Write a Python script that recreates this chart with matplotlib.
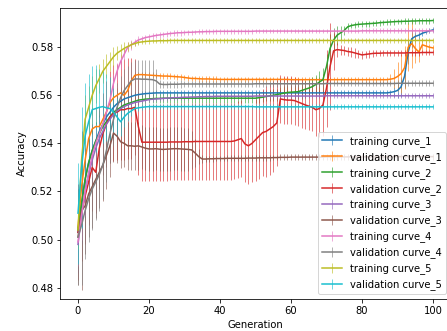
import matplotlib
matplotlib.use("Agg")
import matplotlib.pyplot as plt

generations = list(range(101))

labels = ["training curve_1", "validation curve_1", "training curve_2", "validation curve_2",
          "training curve_3", "validation curve_3", "training curve_4", "validation curve_4",
          "training curve_5", "validation curve_5"]

train_1 = [
    0.503, 0.515, 0.525, 0.532, 0.537, 0.541, 0.545, 0.548, 0.551, 0.553,
    0.555, 0.5565, 0.5575, 0.5585, 0.559, 0.5595, 0.560, 0.5603, 0.5605, 0.5607,
    0.5608, 0.5609, 0.561, 0.561, 0.561, 0.561, 0.561, 0.561, 0.561, 0.561,
    0.561, 0.561, 0.561, 0.561, 0.561, 0.561, 0.561, 0.561, 0.561, 0.561,
    0.561, 0.561, 0.561, 0.561, 0.561, 0.561, 0.561, 0.561, 0.561, 0.561,
    0.561, 0.561, 0.561, 0.561, 0.561, 0.561, 0.561, 0.561, 0.561, 0.561,
    0.561, 0.561, 0.561, 0.561, 0.561, 0.561, 0.561, 0.561, 0.561, 0.561,
    0.561, 0.561, 0.561, 0.561, 0.561, 0.561, 0.561, 0.561, 0.561, 0.561,
    0.561, 0.561, 0.561, 0.561, 0.561, 0.561, 0.561, 0.561, 0.5612, 0.5615,
    0.562, 0.5635, 0.568, 0.578, 0.5835, 0.5845, 0.585, 0.5858, 0.5863, 0.5868,
    0.5872]
err_train_1 = [
    0.012, 0.012, 0.011, 0.010, 0.009, 0.008, 0.007, 0.006, 0.005, 0.004,
    0.0035, 0.003, 0.0025, 0.002, 0.0018, 0.0015, 0.0012, 0.0012, 0.0012, 0.001,
    0.001, 0.001, 0.001, 0.001, 0.001, 0.001, 0.001, 0.001, 0.001, 0.001,
    0.001, 0.001, 0.001, 0.001, 0.001, 0.001, 0.001, 0.001, 0.001, 0.001,
    0.001, 0.001, 0.001, 0.001, 0.001, 0.001, 0.001, 0.001, 0.001, 0.001,
    0.001, 0.001, 0.001, 0.001, 0.001, 0.001, 0.001, 0.001, 0.001, 0.001,
    0.001, 0.001, 0.001, 0.001, 0.001, 0.001, 0.001, 0.001, 0.001, 0.001,
    0.001, 0.001, 0.001, 0.001, 0.001, 0.001, 0.001, 0.001, 0.001, 0.001,
    0.001, 0.001, 0.001, 0.001, 0.001, 0.001, 0.001, 0.001, 0.0012, 0.002,
    0.003, 0.004, 0.005, 0.005, 0.004, 0.002, 0.0015, 0.0012, 0.001, 0.001,
    0.001]

val_1 = [
    0.505, 0.522, 0.533, 0.542, 0.546, 0.547, 0.547, 0.550, 0.553, 0.557,
    0.559, 0.560, 0.561, 0.560, 0.562, 0.566, 0.5683, 0.5686, 0.5686, 0.5685,
    0.5684, 0.5683, 0.5682, 0.5681, 0.568, 0.568, 0.5679, 0.5678, 0.5677, 0.5676,
    0.5674, 0.5672, 0.567, 0.567, 0.5669, 0.5668, 0.5668, 0.5668, 0.5667, 0.5667,
    0.5666, 0.5666, 0.5666, 0.5666, 0.5666, 0.5666, 0.5666, 0.5666, 0.5666, 0.5666,
    0.5666, 0.5666, 0.5666, 0.5666, 0.5666, 0.5666, 0.5666, 0.5666, 0.5666, 0.5666,
    0.5665, 0.5665, 0.5665, 0.5665, 0.5665, 0.5665, 0.5665, 0.5665, 0.5665, 0.5665,
    0.5665, 0.5665, 0.5665, 0.5665, 0.5665, 0.5665, 0.5665, 0.5665, 0.5665, 0.5665,
    0.5665, 0.5665, 0.5665, 0.5665, 0.5665, 0.5665, 0.5665, 0.5665, 0.5667, 0.567,
    0.5678, 0.569, 0.5715, 0.580, 0.5815, 0.5795, 0.578, 0.581, 0.5805, 0.580,
    0.5797]
err_val_1 = [
    0.012, 0.012, 0.011, 0.010, 0.009, 0.008, 0.007, 0.006, 0.005, 0.004,
    0.0035, 0.003, 0.0025, 0.002, 0.002, 0.0018, 0.0015, 0.0012, 0.0012, 0.0012,
    0.0012, 0.0012, 0.0012, 0.0012, 0.0012, 0.0012, 0.0012, 0.0012, 0.0012, 0.0012,
    0.0012, 0.0012, 0.0012, 0.0012, 0.0012, 0.0012, 0.0012, 0.0012, 0.0012, 0.0012,
    0.0012, 0.0012, 0.0012, 0.0012, 0.0012, 0.0012, 0.0012, 0.0012, 0.0012, 0.0012,
    0.0012, 0.0012, 0.0012, 0.0012, 0.0012, 0.0012, 0.0012, 0.0012, 0.0012, 0.0012,
    0.0012, 0.0012, 0.0012, 0.0012, 0.0012, 0.0012, 0.0012, 0.0012, 0.0012, 0.0012,
    0.0012, 0.0012, 0.0012, 0.0012, 0.0012, 0.0012, 0.0012, 0.0012, 0.0012, 0.0012,
    0.0012, 0.0012, 0.0012, 0.0012, 0.0012, 0.0012, 0.0012, 0.0012, 0.002, 0.004,
    0.006, 0.008, 0.009, 0.010, 0.010, 0.006, 0.004, 0.003, 0.002, 0.0015,
    0.0012]

train_2 = [
    0.504, 0.515, 0.525, 0.532, 0.537, 0.541, 0.544, 0.547, 0.549, 0.551,
    0.553, 0.554, 0.555, 0.556, 0.5565, 0.557, 0.5575, 0.558, 0.5582, 0.5584,
    0.5585, 0.5586, 0.5587, 0.5587, 0.5588, 0.5588, 0.5588, 0.5588, 0.5588, 0.5588,
    0.5588, 0.5588, 0.5588, 0.5588, 0.5588, 0.5588, 0.5588, 0.5588, 0.5588, 0.5588,
    0.5588, 0.5588, 0.5588, 0.5588, 0.5588, 0.5588, 0.5588, 0.5588, 0.5588, 0.5588,
    0.5588, 0.559, 0.5592, 0.5595, 0.5598, 0.560, 0.5603, 0.5606, 0.5609, 0.5612,
    0.5613, 0.5614, 0.5615, 0.562, 0.5625, 0.563, 0.5636, 0.5645, 0.5655, 0.5665,
    0.572, 0.5795, 0.583, 0.585, 0.586, 0.587, 0.5885, 0.589, 0.5893, 0.5895,
    0.5896, 0.5897, 0.5898, 0.5899, 0.590, 0.5902, 0.5903, 0.5904, 0.5905, 0.5906,
    0.5907, 0.5907, 0.5908, 0.5908, 0.5909, 0.5909, 0.591, 0.591, 0.591, 0.591,
    0.5911]
err_train_2 = [
    0.012, 0.012, 0.011, 0.010, 0.009, 0.008, 0.007, 0.006, 0.005, 0.0045,
    0.004, 0.0035, 0.003, 0.0028, 0.0025, 0.0022, 0.002, 0.002, 0.002, 0.002,
    0.0018, 0.0018, 0.0018, 0.0018, 0.0018, 0.0018, 0.0018, 0.0018, 0.0018, 0.0018,
    0.0018, 0.0018, 0.0018, 0.0018, 0.0018, 0.0018, 0.0018, 0.0018, 0.0018, 0.0018,
    0.0018, 0.0018, 0.0018, 0.0018, 0.0018, 0.0018, 0.0018, 0.0018, 0.0018, 0.0018,
    0.002, 0.002, 0.002, 0.002, 0.0022, 0.0025, 0.0025, 0.0028, 0.003, 0.003,
    0.003, 0.003, 0.0032, 0.0035, 0.0035, 0.0038, 0.004, 0.004, 0.0045, 0.005,
    0.005, 0.006, 0.005, 0.004, 0.003, 0.002, 0.0015, 0.0012, 0.0012, 0.0012,
    0.0012, 0.0012, 0.0012, 0.0012, 0.0012, 0.0012, 0.0012, 0.0012, 0.0012, 0.0012,
    0.0012, 0.0012, 0.0012, 0.0012, 0.0012, 0.0012, 0.0012, 0.0012, 0.0012, 0.0012,
    0.0012]

val_2 = [
    0.503, 0.511, 0.518, 0.524, 0.530, 0.528, 0.538, 0.544, 0.548, 0.551,
    0.5525, 0.553, 0.554, 0.554, 0.5545, 0.5545, 0.555, 0.547, 0.5405, 0.5405,
    0.5405, 0.5405, 0.5405, 0.5405, 0.5405, 0.5405, 0.5406, 0.5406, 0.5406, 0.5406,
    0.5407, 0.5407, 0.5407, 0.5408, 0.5408, 0.5408, 0.5408, 0.5408, 0.5408, 0.5408,
    0.5408, 0.5408, 0.5408, 0.5408, 0.541, 0.5415, 0.542, 0.5398, 0.539, 0.540,
    0.5415, 0.543, 0.5445, 0.545, 0.546, 0.547, 0.5485, 0.5585, 0.5582, 0.558,
    0.558, 0.5578, 0.5572, 0.5566, 0.556, 0.5555, 0.555, 0.554, 0.5545, 0.556,
    0.563, 0.572, 0.5785, 0.579, 0.5788, 0.5786, 0.5782, 0.578, 0.5776, 0.5772,
    0.5768, 0.577, 0.5772, 0.5774, 0.5775, 0.5775, 0.5776, 0.5776, 0.5776, 0.5776,
    0.5776, 0.5776, 0.5776, 0.5777, 0.5777, 0.5777, 0.5777, 0.5778, 0.5778, 0.5778,
    0.5778]
err_val_2 = [
    0.020, 0.020, 0.020, 0.018, 0.018, 0.017, 0.017, 0.017, 0.018, 0.019,
    0.020, 0.020, 0.021, 0.021, 0.021, 0.021, 0.020, 0.020, 0.016, 0.016,
    0.016, 0.016, 0.016, 0.016, 0.016, 0.016, 0.016, 0.016, 0.016, 0.016,
    0.016, 0.016, 0.016, 0.016, 0.016, 0.016, 0.016, 0.016, 0.016, 0.016,
    0.016, 0.016, 0.016, 0.016, 0.016, 0.016, 0.016, 0.016, 0.016, 0.016,
    0.017, 0.018, 0.018, 0.019, 0.019, 0.019, 0.018, 0.010, 0.010, 0.010,
    0.010, 0.010, 0.010, 0.010, 0.010, 0.010, 0.010, 0.011, 0.012, 0.013,
    0.016, 0.018, 0.008, 0.003, 0.002, 0.002, 0.002, 0.002, 0.002, 0.0015,
    0.0015, 0.0015, 0.0015, 0.0015, 0.0012, 0.0012, 0.0012, 0.0012, 0.0012, 0.0012,
    0.0012, 0.0012, 0.0012, 0.0012, 0.0012, 0.0012, 0.0012, 0.0012, 0.0012, 0.0012,
    0.0012]

train_3 = [
    0.498, 0.510, 0.520, 0.527, 0.533, 0.538, 0.542, 0.545, 0.548, 0.550,
    0.552, 0.5535, 0.5545, 0.5553, 0.556, 0.5565, 0.557, 0.5573, 0.5576, 0.5579,
    0.5582, 0.5584, 0.5585, 0.5586, 0.5587, 0.5588, 0.5589, 0.559, 0.559, 0.5591,
    0.5592, 0.5592, 0.5593, 0.5593, 0.5594, 0.5594, 0.5595, 0.5595, 0.5595, 0.5596,
    0.5596, 0.5596, 0.5596, 0.5596, 0.5596, 0.5596, 0.5596, 0.5596, 0.5596, 0.5596,
    0.5597, 0.5597, 0.5597, 0.5597, 0.5597, 0.5597, 0.5597, 0.5597, 0.5597, 0.5597,
    0.5597, 0.5597, 0.5597, 0.5597, 0.5597, 0.5597, 0.5597, 0.5597, 0.5597, 0.5597,
    0.5598, 0.5598, 0.5598, 0.5598, 0.5598, 0.5598, 0.5598, 0.5598, 0.5598, 0.5598,
    0.5598, 0.5598, 0.5598, 0.5598, 0.5598, 0.5598, 0.5598, 0.5598, 0.5598, 0.5598,
    0.5598, 0.5598, 0.5598, 0.5598, 0.5598, 0.5598, 0.5598, 0.5598, 0.5598, 0.5598,
    0.5598]
err_train_3 = [
    0.012, 0.012, 0.011, 0.010, 0.009, 0.008, 0.007, 0.006, 0.005, 0.004,
    0.0035, 0.003, 0.0025, 0.002, 0.0018, 0.0015, 0.0012, 0.0012, 0.001, 0.001,
    0.001, 0.001, 0.001, 0.001, 0.001, 0.001, 0.001, 0.001, 0.001, 0.001,
    0.001, 0.001, 0.001, 0.001, 0.001, 0.001, 0.001, 0.001, 0.001, 0.001,
    0.001, 0.001, 0.001, 0.001, 0.001, 0.001, 0.001, 0.001, 0.001, 0.001,
    0.001, 0.001, 0.001, 0.001, 0.001, 0.001, 0.001, 0.001, 0.001, 0.001,
    0.001, 0.001, 0.001, 0.001, 0.001, 0.001, 0.001, 0.001, 0.001, 0.001,
    0.001, 0.001, 0.001, 0.001, 0.001, 0.001, 0.001, 0.001, 0.001, 0.001,
    0.001, 0.001, 0.001, 0.001, 0.001, 0.001, 0.001, 0.001, 0.001, 0.001,
    0.001, 0.001, 0.001, 0.001, 0.001, 0.001, 0.001, 0.001, 0.001, 0.001,
    0.001]

val_3 = [
    0.501, 0.512, 0.514, 0.519, 0.522, 0.525, 0.528, 0.531, 0.535, 0.539,
    0.5443, 0.543, 0.5407, 0.540, 0.539, 0.539, 0.5388, 0.539, 0.5385, 0.538,
    0.5377, 0.5377, 0.5378, 0.5376, 0.5375, 0.5376, 0.5377, 0.5378, 0.5378, 0.5377,
    0.5376, 0.5375, 0.5373, 0.536, 0.5345, 0.5335, 0.5335, 0.5336, 0.5336, 0.5337,
    0.5337, 0.5337, 0.5338, 0.5338, 0.5338, 0.5338, 0.5338, 0.5338, 0.5339, 0.5339,
    0.5339, 0.534, 0.534, 0.534, 0.534, 0.5341, 0.5341, 0.5342, 0.5342, 0.5342,
    0.5343, 0.5343, 0.5343, 0.5343, 0.5343, 0.5343, 0.5343, 0.5343, 0.5343, 0.5343,
    0.5344, 0.5344, 0.5344, 0.5344, 0.5344, 0.5344, 0.5344, 0.5344, 0.5344, 0.5344,
    0.5344, 0.5344, 0.5344, 0.5344, 0.5344, 0.5344, 0.5344, 0.5344, 0.5344, 0.5344,
    0.5345, 0.5345, 0.5345, 0.5345, 0.5345, 0.5345, 0.5345, 0.5345, 0.5345, 0.5345,
    0.5345]
err_val_3 = [
    0.020, 0.033, 0.020, 0.018, 0.017, 0.016, 0.015, 0.015, 0.014, 0.013,
    0.012, 0.011, 0.011, 0.010, 0.010, 0.010, 0.010, 0.010, 0.009, 0.009,
    0.009, 0.009, 0.009, 0.009, 0.009, 0.009, 0.009, 0.009, 0.009, 0.009,
    0.009, 0.009, 0.008, 0.006, 0.003, 0.0015, 0.0012, 0.0012, 0.0012, 0.0012,
    0.0012, 0.0012, 0.0012, 0.0012, 0.0012, 0.0012, 0.0012, 0.0012, 0.0012, 0.0012,
    0.0012, 0.0012, 0.0012, 0.0012, 0.0012, 0.0012, 0.0012, 0.0012, 0.0012, 0.0012,
    0.0012, 0.0012, 0.0012, 0.0012, 0.0012, 0.0012, 0.0012, 0.0012, 0.0012, 0.0012,
    0.0012, 0.0012, 0.0012, 0.0012, 0.0012, 0.0012, 0.0012, 0.0012, 0.0012, 0.0012,
    0.0012, 0.0012, 0.0012, 0.0012, 0.0012, 0.0012, 0.0012, 0.0012, 0.0012, 0.0012,
    0.0012, 0.0012, 0.0012, 0.0012, 0.0012, 0.0012, 0.0012, 0.0012, 0.0012, 0.0012,
    0.0012]

train_4 = [
    0.499, 0.510, 0.520, 0.528, 0.535, 0.540, 0.544, 0.548, 0.553, 0.558,
    0.565, 0.570, 0.574, 0.577, 0.580, 0.581, 0.582, 0.583, 0.5835, 0.584,
    0.5843, 0.5846, 0.5849, 0.5851, 0.5853, 0.5855, 0.5857, 0.5858, 0.586, 0.586,
    0.5861, 0.5862, 0.5862, 0.5863, 0.5864, 0.5864, 0.5865, 0.5865, 0.5865, 0.5866,
    0.5866, 0.5866, 0.5866, 0.5866, 0.5866, 0.5866, 0.5866, 0.5866, 0.5866, 0.5866,
    0.5867, 0.5867, 0.5867, 0.5867, 0.5867, 0.5867, 0.5867, 0.5867, 0.5867, 0.5867,
    0.5867, 0.5867, 0.5867, 0.5867, 0.5867, 0.5867, 0.5867, 0.5867, 0.5867, 0.5867,
    0.5867, 0.5867, 0.5867, 0.5867, 0.5867, 0.5867, 0.5867, 0.5867, 0.5867, 0.5867,
    0.5868, 0.5868, 0.5868, 0.5868, 0.5868, 0.5868, 0.5868, 0.5868, 0.5868, 0.5868,
    0.5868, 0.5868, 0.5868, 0.5868, 0.5868, 0.5868, 0.5868, 0.5868, 0.5868, 0.5868,
    0.5868]
err_train_4 = [
    0.010, 0.010, 0.010, 0.009, 0.009, 0.008, 0.007, 0.006, 0.005, 0.005,
    0.004, 0.0035, 0.003, 0.0025, 0.002, 0.002, 0.0015, 0.0015, 0.0012, 0.0012,
    0.0012, 0.0012, 0.0012, 0.0012, 0.0012, 0.0012, 0.0012, 0.0012, 0.0012, 0.0012,
    0.001, 0.001, 0.001, 0.001, 0.001, 0.001, 0.001, 0.001, 0.001, 0.001,
    0.001, 0.001, 0.001, 0.001, 0.001, 0.001, 0.001, 0.001, 0.001, 0.001,
    0.001, 0.001, 0.001, 0.001, 0.001, 0.001, 0.001, 0.001, 0.001, 0.001,
    0.001, 0.001, 0.001, 0.001, 0.001, 0.001, 0.001, 0.001, 0.001, 0.001,
    0.001, 0.001, 0.001, 0.001, 0.001, 0.001, 0.001, 0.001, 0.001, 0.001,
    0.001, 0.001, 0.001, 0.001, 0.001, 0.001, 0.001, 0.001, 0.001, 0.001,
    0.001, 0.001, 0.001, 0.001, 0.001, 0.001, 0.001, 0.001, 0.001, 0.001,
    0.001]

val_4 = [
    0.501, 0.506, 0.512, 0.517, 0.521, 0.524, 0.527, 0.531, 0.537, 0.544,
    0.550, 0.555, 0.559, 0.562, 0.564, 0.566, 0.5668, 0.5668, 0.5667, 0.5667,
    0.5666, 0.5665, 0.566, 0.5647, 0.5645, 0.5645, 0.5646, 0.5646, 0.5646, 0.5647,
    0.5647, 0.5647, 0.5647, 0.5647, 0.5647, 0.5647, 0.5647, 0.5647, 0.5647, 0.5647,
    0.5647, 0.5647, 0.5647, 0.5647, 0.5647, 0.5647, 0.5647, 0.5647, 0.5647, 0.5647,
    0.5648, 0.5648, 0.5648, 0.5648, 0.5648, 0.5648, 0.5648, 0.5648, 0.5648, 0.5648,
    0.5648, 0.5648, 0.5648, 0.5648, 0.5648, 0.5648, 0.5648, 0.5648, 0.5648, 0.5648,
    0.5649, 0.5649, 0.5649, 0.5649, 0.5649, 0.5649, 0.5649, 0.5649, 0.5649, 0.5649,
    0.5649, 0.5649, 0.5649, 0.5649, 0.5649, 0.5649, 0.5649, 0.5649, 0.5649, 0.5649,
    0.565, 0.565, 0.565, 0.565, 0.565, 0.565, 0.565, 0.565, 0.565, 0.565,
    0.565]
err_val_4 = [
    0.020, 0.025, 0.020, 0.018, 0.017, 0.016, 0.015, 0.014, 0.013, 0.012,
    0.011, 0.010, 0.009, 0.009, 0.008, 0.008, 0.008, 0.008, 0.008, 0.008,
    0.008, 0.008, 0.005, 0.0015, 0.0015, 0.0015, 0.0015, 0.0015, 0.0015, 0.0015,
    0.0012, 0.0012, 0.0012, 0.0012, 0.0012, 0.0012, 0.0012, 0.0012, 0.0012, 0.0012,
    0.0012, 0.0012, 0.0012, 0.0012, 0.0012, 0.0012, 0.0012, 0.0012, 0.0012, 0.0012,
    0.0012, 0.0012, 0.0012, 0.0012, 0.0012, 0.0012, 0.0012, 0.0012, 0.0012, 0.0012,
    0.0012, 0.0012, 0.0012, 0.0012, 0.0012, 0.0012, 0.0012, 0.0012, 0.0012, 0.0012,
    0.0012, 0.0012, 0.0012, 0.0012, 0.0012, 0.0012, 0.0012, 0.0012, 0.0012, 0.0012,
    0.0012, 0.0012, 0.0012, 0.0012, 0.0012, 0.0012, 0.0012, 0.0012, 0.0012, 0.0012,
    0.0012, 0.0012, 0.0012, 0.0012, 0.0012, 0.0012, 0.0012, 0.0012, 0.0012, 0.0012,
    0.0012]

train_5 = [
    0.504, 0.533, 0.550, 0.555, 0.560, 0.564, 0.567, 0.570, 0.572, 0.574,
    0.576, 0.5775, 0.5785, 0.5795, 0.5803, 0.581, 0.5815, 0.582, 0.5822, 0.5824,
    0.5825, 0.5826, 0.5826, 0.5827, 0.5827, 0.5827, 0.5828, 0.5828, 0.5828, 0.5828,
    0.5828, 0.5828, 0.5828, 0.5828, 0.5828, 0.5828, 0.5828, 0.5828, 0.5828, 0.5828,
    0.5828, 0.5828, 0.5828, 0.5828, 0.5828, 0.5828, 0.5828, 0.5828, 0.5828, 0.5828,
    0.5828, 0.5828, 0.5828, 0.5828, 0.5828, 0.5828, 0.5828, 0.5828, 0.5828, 0.5828,
    0.5828, 0.5828, 0.5828, 0.5828, 0.5828, 0.5828, 0.5828, 0.5828, 0.5828, 0.5828,
    0.5828, 0.5828, 0.5828, 0.5828, 0.5828, 0.5828, 0.5828, 0.5828, 0.5828, 0.5828,
    0.5828, 0.5828, 0.5828, 0.5828, 0.5828, 0.5828, 0.5828, 0.5828, 0.5828, 0.5828,
    0.5828, 0.5828, 0.5828, 0.5828, 0.5828, 0.5828, 0.5828, 0.5828, 0.5828, 0.5828,
    0.5828]
err_train_5 = [
    0.008, 0.010, 0.010, 0.009, 0.008, 0.007, 0.006, 0.005, 0.005, 0.004,
    0.004, 0.003, 0.003, 0.0025, 0.002, 0.0015, 0.0012, 0.0012, 0.001, 0.001,
    0.001, 0.001, 0.001, 0.001, 0.001, 0.001, 0.001, 0.001, 0.001, 0.001,
    0.001, 0.001, 0.001, 0.001, 0.001, 0.001, 0.001, 0.001, 0.001, 0.001,
    0.001, 0.001, 0.001, 0.001, 0.001, 0.001, 0.001, 0.001, 0.001, 0.001,
    0.001, 0.001, 0.001, 0.001, 0.001, 0.001, 0.001, 0.001, 0.001, 0.001,
    0.001, 0.001, 0.001, 0.001, 0.001, 0.001, 0.001, 0.001, 0.001, 0.001,
    0.001, 0.001, 0.001, 0.001, 0.001, 0.001, 0.001, 0.001, 0.001, 0.001,
    0.001, 0.001, 0.001, 0.001, 0.001, 0.001, 0.001, 0.001, 0.001, 0.001,
    0.001, 0.001, 0.001, 0.001, 0.001, 0.001, 0.001, 0.001, 0.001, 0.001,
    0.001]

val_5 = [
    0.511, 0.530, 0.543, 0.549, 0.554, 0.5545, 0.555, 0.5553, 0.5548, 0.5545,
    0.553, 0.551, 0.549, 0.551, 0.5525, 0.5535, 0.5545, 0.5548, 0.555, 0.5552,
    0.5553, 0.5553, 0.5553, 0.5553, 0.5553, 0.5553, 0.5553, 0.5553, 0.5553, 0.5553,
    0.5553, 0.5553, 0.5553, 0.5553, 0.5553, 0.5553, 0.5553, 0.5553, 0.5553, 0.5553,
    0.5553, 0.5553, 0.5553, 0.5553, 0.5553, 0.5553, 0.5553, 0.5553, 0.5553, 0.5553,
    0.5552, 0.5552, 0.5552, 0.5552, 0.5552, 0.5552, 0.5552, 0.5552, 0.5552, 0.5552,
    0.5552, 0.5552, 0.5552, 0.5552, 0.5552, 0.5552, 0.5552, 0.5552, 0.5552, 0.5552,
    0.5552, 0.5552, 0.5552, 0.5552, 0.5552, 0.5552, 0.5552, 0.5552, 0.5552, 0.5552,
    0.5552, 0.5552, 0.5552, 0.5552, 0.5552, 0.5552, 0.5552, 0.5552, 0.5552, 0.5552,
    0.5552, 0.5552, 0.5552, 0.5552, 0.5552, 0.5552, 0.5552, 0.5552, 0.5552, 0.5552,
    0.5552]
err_val_5 = [
    0.021, 0.025, 0.022, 0.020, 0.018, 0.018, 0.016, 0.015, 0.014, 0.013,
    0.010, 0.008, 0.006, 0.004, 0.003, 0.002, 0.0015, 0.0012, 0.0012, 0.001,
    0.001, 0.001, 0.001, 0.001, 0.001, 0.001, 0.001, 0.001, 0.001, 0.001,
    0.001, 0.001, 0.001, 0.001, 0.001, 0.001, 0.001, 0.001, 0.001, 0.001,
    0.001, 0.001, 0.001, 0.001, 0.001, 0.001, 0.001, 0.001, 0.001, 0.001,
    0.001, 0.001, 0.001, 0.001, 0.001, 0.001, 0.001, 0.001, 0.001, 0.001,
    0.001, 0.001, 0.001, 0.001, 0.001, 0.001, 0.001, 0.001, 0.001, 0.001,
    0.001, 0.001, 0.001, 0.001, 0.001, 0.001, 0.001, 0.001, 0.001, 0.001,
    0.001, 0.001, 0.001, 0.001, 0.001, 0.001, 0.001, 0.001, 0.001, 0.001,
    0.001, 0.001, 0.001, 0.001, 0.001, 0.001, 0.001, 0.001, 0.001, 0.001,
    0.001]

series = [train_1, val_1, train_2, val_2, train_3, val_3, train_4, val_4, train_5, val_5]
errors = [err_train_1, err_val_1, err_train_2, err_val_2, err_train_3, err_val_3,
          err_train_4, err_val_4, err_train_5, err_val_5]

W, H, DPI = 447, 331, 72
fig = plt.figure(figsize=(W / DPI, H / DPI), dpi=DPI)
ax = fig.add_axes([60 / W, 32 / H, 391 / W, 291 / H])

for y, e, lab in zip(series, errors, labels):
    n = min(len(generations), len(y), len(e))
    eb = ax.errorbar(generations[:n], y[:n], yerr=e[:n], label=lab,
                     capsize=0, elinewidth=1.0, linewidth=1.5)
    for c in eb[2]:
        c.set_alpha(0.6)

ax.set_xlim(-5.07, 105.07)
ax.set_ylim(0.4753, 0.5963)
ax.set_xticks([0, 20, 40, 60, 80, 100])
ax.set_yticks([0.48, 0.50, 0.52, 0.54, 0.56, 0.58])
ax.tick_params(labelsize=10)
ax.set_xlabel("Generation", fontsize=10)
ax.set_ylabel("Accuracy", fontsize=10)
ax.legend(loc="lower right", fontsize=10)

fig.savefig("out.png", dpi=DPI)
